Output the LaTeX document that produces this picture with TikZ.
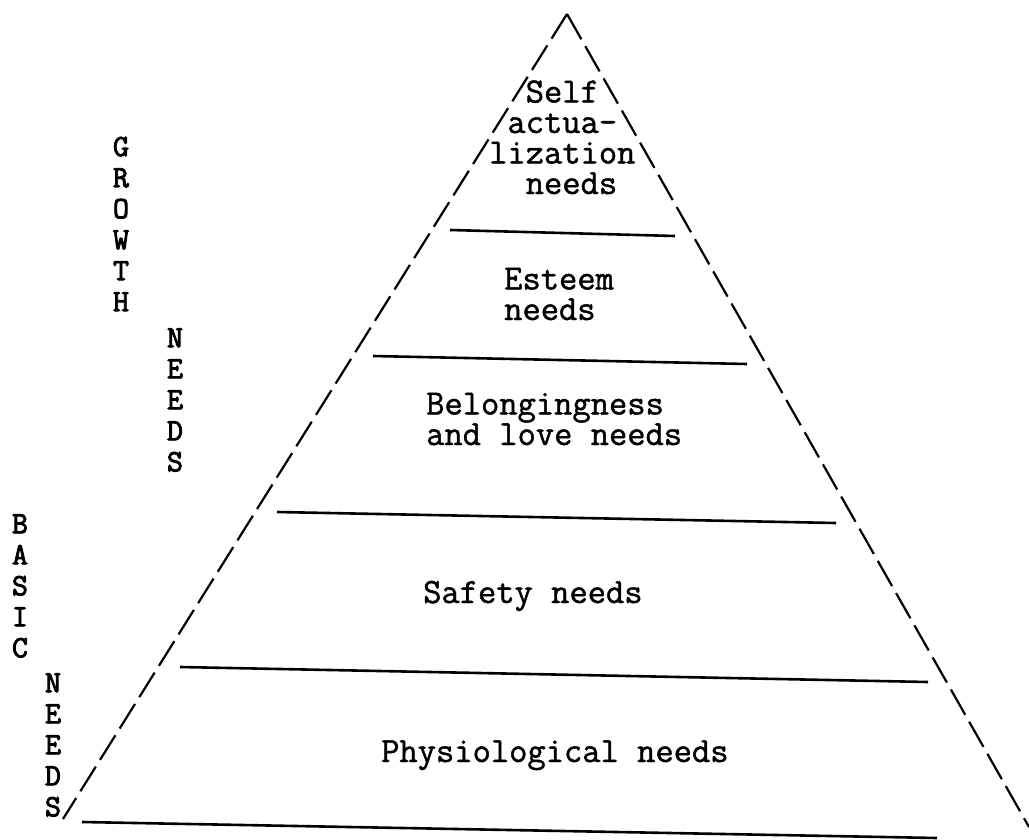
\documentclass[tikz,border=0pt]{standalone}
\newcommand\heavytext[1]{\special{pdf:code q 2 Tr 0.9 w}#1\special{pdf:code Q}}
\newcommand\midtext[1]{\special{pdf:code q 2 Tr 0.45 w}#1\special{pdf:code Q}}
\begin{document}
\begin{tikzpicture}[x=1pt,y=-1pt,
  side/.style={line width=2.2pt, dash pattern=on 29pt off 8pt},
  level/.style={line width=2.6pt},
  tier/.style={font=\ttfamily\fontsize{35.5}{30.5}\selectfont, inner sep=0pt, align=left, anchor=base west},
  vert/.style={font=\ttfamily\fontsize{31}{31}\selectfont, inner sep=0pt, align=center}]
\useasboundingbox (0,0) rectangle (1029,839);
\coordinate (apex) at (567,14);
\coordinate (bl) at (63,819);
\coordinate (br) at (1029,827);
\draw[side] (apex) -- (bl);
\draw[side] (apex) -- (br);
\coordinate (l1a) at (450,230); \coordinate (l1b) at (675,236);
\coordinate (l2a) at (373,356); \coordinate (l2b) at (747,364);
\coordinate (l3a) at (277,512); \coordinate (l3b) at (836,523);
\coordinate (l4a) at (180,667); \coordinate (l4b) at (928,682);
\coordinate (l5a) at (82,822);  \coordinate (l5b) at (937,838);
\draw[level] (l1a) -- (l1b);
\draw[level] (l2a) -- (l2b);
\draw[level] (l3a) -- (l3b);
\draw[level] (l4a) -- (l4b);
\draw[level] (l5a) -- (l5b);
\node[tier] (self) at (489,194) {\midtext{\phantom{li}Self}\\\midtext{\phantom{l}actua-}\\\midtext{lization}\\\midtext{\phantom{li}needs}};
\node[tier] (esteem) at (504,320) {\midtext{Esteem}\\\midtext{needs}};
\node[tier] (belong) at (426,445) {\midtext{Belongingness}\\\midtext{and love needs}};
\node[tier] (safety) at (423,603) {\midtext{Safety needs}};
\node[tier] (physio) at (381,762) {\midtext{Physiological needs}};
\node[vert] (growth) at (121,224) {\heavytext{G}\\\heavytext{R}\\\heavytext{O}\\\heavytext{W}\\\heavytext{T}\\\heavytext{H}};
\node[vert] (needsA) at (175,400) {\heavytext{N}\\\heavytext{E}\\\heavytext{E}\\\heavytext{D}\\\heavytext{S}};
\node[vert] (basic) at (20,586) {\heavytext{B}\\\heavytext{A}\\\heavytext{S}\\\heavytext{I}\\\heavytext{C}};
\node[vert] (needsB) at (53,745) {\heavytext{N}\\\heavytext{E}\\\heavytext{E}\\\heavytext{D}\\\heavytext{S}};
\end{tikzpicture}
\end{document}
